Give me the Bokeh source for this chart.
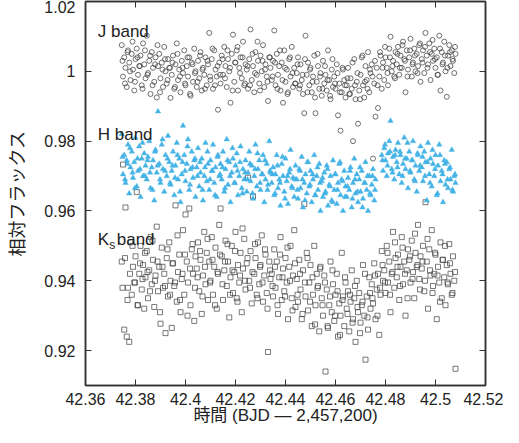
import numpy as np
from bokeh.plotting import figure
from bokeh.models import FixedTicker, LinearAxis, Range1d, Label
from bokeh.embed import file_html
from bokeh.resources import INLINE

# Observation times (BJD - 2,457,200), shared by the three bands (frame set A)
TIME_A = [
    42.3745, 42.3750, 42.3755, 42.3760, 42.3765, 42.3770, 42.3775, 42.3780, 42.3785, 42.3790,
    42.3795, 42.3800, 42.3805, 42.3810, 42.3815, 42.3820, 42.3825, 42.3830, 42.3835, 42.3840,
    42.3845, 42.3850, 42.3855, 42.3860, 42.3865, 42.3870, 42.3875, 42.3880, 42.3885, 42.3890,
    42.3895, 42.3900, 42.3905, 42.3910, 42.3915, 42.3920, 42.3925, 42.3930, 42.3935, 42.3940,
    42.3945, 42.3950, 42.3955, 42.3960, 42.3965, 42.3970, 42.3975, 42.3980, 42.3985, 42.3990,
    42.3995, 42.4000, 42.4005, 42.4010, 42.4015, 42.4020, 42.4025, 42.4030, 42.4035, 42.4040,
    42.4045, 42.4050, 42.4055, 42.4060, 42.4065, 42.4070, 42.4075, 42.4080, 42.4085, 42.4090,
    42.4095, 42.4100, 42.4105, 42.4110, 42.4115, 42.4120, 42.4125, 42.4130, 42.4135, 42.4140,
    42.4145, 42.4150, 42.4155, 42.4160, 42.4165, 42.4170, 42.4175, 42.4180, 42.4185, 42.4190,
    42.4195, 42.4200, 42.4205, 42.4210, 42.4215, 42.4220, 42.4225, 42.4230, 42.4235, 42.4240,
    42.4245, 42.4250, 42.4255, 42.4260, 42.4265, 42.4270, 42.4275, 42.4280, 42.4285, 42.4290,
    42.4295, 42.4300, 42.4305, 42.4310, 42.4315, 42.4320, 42.4325, 42.4330, 42.4335, 42.4340,
    42.4345, 42.4350, 42.4355, 42.4360, 42.4365, 42.4370, 42.4375, 42.4380, 42.4385, 42.4390,
    42.4395, 42.4400, 42.4405, 42.4410, 42.4415, 42.4420, 42.4425, 42.4430, 42.4435, 42.4440,
    42.4445, 42.4450, 42.4455, 42.4460, 42.4465, 42.4470, 42.4475, 42.4480, 42.4485, 42.4490,
    42.4495, 42.4500, 42.4505, 42.4510, 42.4515, 42.4520, 42.4525, 42.4530, 42.4535, 42.4540,
    42.4545, 42.4550, 42.4555, 42.4560, 42.4565, 42.4570, 42.4575, 42.4580, 42.4585, 42.4590,
    42.4595, 42.4600, 42.4605, 42.4610, 42.4615, 42.4620, 42.4625, 42.4630, 42.4635, 42.4640,
    42.4645, 42.4650, 42.4655, 42.4660, 42.4665, 42.4670, 42.4675, 42.4680, 42.4685, 42.4690,
    42.4695, 42.4700, 42.4705, 42.4710, 42.4715, 42.4720, 42.4725, 42.4730, 42.4735, 42.4740,
    42.4745, 42.4750, 42.4755, 42.4760, 42.4765, 42.4770, 42.4775, 42.4780, 42.4785, 42.4790,
    42.4795, 42.4800, 42.4805, 42.4810, 42.4815, 42.4820, 42.4825, 42.4830, 42.4835, 42.4840,
    42.4845, 42.4850, 42.4855, 42.4860, 42.4865, 42.4870, 42.4875, 42.4880, 42.4885, 42.4890,
    42.4895, 42.4900, 42.4905, 42.4910, 42.4915, 42.4920, 42.4925, 42.4930, 42.4935, 42.4940,
    42.4945, 42.4950, 42.4955, 42.4960, 42.4965, 42.4970, 42.4975, 42.4980, 42.4985, 42.4990,
    42.4995, 42.5000, 42.5005, 42.5010, 42.5015, 42.5020, 42.5025, 42.5030, 42.5035, 42.5040,
    42.5045, 42.5050, 42.5055, 42.5060, 42.5065, 42.5070, 42.5075, 42.5080,
]

J_FLUX_A = [
    1.0075, 0.9985, 1.0040, 1.0010, 0.9955, 1.0060, 1.0025, 0.9975, 1.0050, 1.0005,
    0.9945, 1.0035, 1.0065, 0.9990, 1.0015, 1.0045, 0.9960, 1.0080, 1.0020, 0.9980,
    1.0102, 0.9995, 1.0030, 0.9935, 1.0055, 1.0010, 0.9970, 1.0040, 0.9925, 1.0015,
    1.0050, 0.9980, 1.0025, 0.9955, 1.0070, 1.0000, 0.9965, 1.0035, 1.0010, 0.9924,
    0.9990, 1.0045, 0.9950, 1.0020, 1.0080, 0.9975, 1.0005, 0.9940, 1.0030, 0.9995,
    1.0060, 0.9960, 1.0015, 0.9985, 1.0040, 0.9930, 1.0025, 0.9970, 1.0065, 1.0000,
    0.9955, 1.0030, 0.9980, 1.0055, 0.9945, 1.0010, 0.9990, 1.0040, 0.9960, 1.0020,
    1.0110, 0.9975, 1.0035, 0.9950, 1.0060, 1.0005, 0.9985, 0.9890, 1.0025, 0.9965,
    1.0045, 0.9990, 1.0070, 1.0015, 0.9955, 1.0035, 1.0000, 0.9910, 1.0050, 1.0105,
    0.9970, 1.0025, 1.0060, 0.9945, 1.0010, 1.0040, 0.9980, 1.0085, 0.9960, 1.0020,
    1.0005, 0.9950, 1.0035, 1.0120, 0.9975, 1.0015, 0.9940, 1.0055, 0.9990, 1.0030,
    0.9965, 1.0045, 1.0000, 1.0075, 0.9955, 1.0020, 0.9985, 0.9915, 1.0040, 1.0010,
    0.9975, 1.0030, 1.0117, 0.9960, 1.0050, 0.9990, 1.0015, 0.9945, 1.0025, 0.9910,
    1.0060, 0.9970, 1.0005, 0.9940, 1.0035, 0.9985, 1.0070, 0.9955, 1.0010, 0.9965,
    0.9995, 1.0040, 0.9950, 1.0020, 0.9975, 0.9935, 0.9880, 1.0102, 0.9990, 1.0025,
    0.9960, 1.0010, 0.9940, 0.9985, 1.0045, 0.9880, 0.9970, 1.0015, 0.9950, 0.9995,
    0.9930, 1.0030, 0.9965, 0.9990, 0.9945, 1.0060, 0.9975, 0.9920, 1.0005, 0.9955,
    0.9985, 0.9950, 1.0020, 0.9874, 0.9965, 0.9830, 0.9940, 1.0005, 0.9975, 0.9925,
    0.9960, 1.0010, 0.9935, 0.9980, 0.9950, 0.9800, 1.0035, 0.9920, 0.9970, 0.9850,
    0.9945, 0.9990, 1.0040, 0.9960, 0.9925, 1.0015, 0.9975, 1.0055, 0.9940, 0.9995,
    1.0020, 0.9750, 0.9965, 0.9870, 1.0010, 0.9895, 0.9985, 1.0045, 0.9950, 1.0025,
    0.9975, 1.0040, 1.0010, 0.9960, 1.0065, 1.0099, 1.0000, 1.0030, 0.9985, 1.0055,
    1.0020, 1.0070, 0.9990, 1.0045, 1.0010, 1.0085, 1.0035, 0.9940, 1.0060, 1.0005,
    1.0040, 1.0093, 0.9985, 1.0025, 1.0065, 1.0000, 1.0050, 1.0015, 1.0075, 0.9970,
    1.0035, 1.0060, 0.9995, 1.0110, 1.0045, 1.0020, 1.0080, 0.9975, 1.0050, 1.0030,
    1.0065, 1.0010, 1.0040, 0.9990, 1.0102, 0.9945, 1.0055, 1.0025, 1.0085, 1.0000,
    0.9927, 1.0045, 1.0075, 1.0015, 1.0060, 1.0030, 0.9995, 1.0050,
]

H_FLUX_A = [
    0.9820, 0.9705, 0.9760, 0.9680, 0.9745, 0.9790, 0.9650, 0.9725, 0.9770, 0.9695,
    0.9740, 0.9810, 0.9670, 0.9715, 0.9785, 0.9640, 0.9750, 0.9700, 0.9765, 0.9730,
    0.9690, 0.9755, 0.9800, 0.9665, 0.9725, 0.9745, 0.9630, 0.9775, 0.9710, 0.9885,
    0.9735, 0.9680, 0.9790, 0.9720, 0.9655, 0.9760, 0.9700, 0.9815, 0.9740, 0.9675,
    0.9715, 0.9770, 0.9645, 0.9730, 0.9795, 0.9690, 0.9750, 0.9625, 0.9705, 0.9844,
    0.9760, 0.9685, 0.9735, 0.9805, 0.9660, 0.9720, 0.9770, 0.9695, 0.9745, 0.9640,
    0.9725, 0.9780, 0.9670, 0.9710, 0.9750, 0.9630, 0.9700, 0.9795, 0.9685, 0.9735,
    0.9660, 0.9745, 0.9715, 0.9790, 0.9680, 0.9725, 0.9640, 0.9760, 0.9700, 0.9735,
    0.9690, 0.9770, 0.9655, 0.9720, 0.9805, 0.9675, 0.9740, 0.9625, 0.9710, 0.9750,
    0.9680, 0.9730, 0.9765, 0.9645, 0.9700, 0.9785, 0.9665, 0.9720, 0.9690, 0.9745,
    0.9655, 0.9710, 0.9770, 0.9685, 0.9730, 0.9635, 0.9700, 0.9790, 0.9670, 0.9720,
    0.9745, 0.9660, 0.9705, 0.9760, 0.9625, 0.9690, 0.9735, 0.9675, 0.9800, 0.9710,
    0.9680, 0.9725, 0.9645, 0.9705, 0.9760, 0.9665, 0.9690, 0.9615, 0.9735, 0.9700,
    0.9655, 0.9750, 0.9685, 0.9620, 0.9710, 0.9775, 0.9670, 0.9695, 0.9640, 0.9730,
    0.9690, 0.9635, 0.9720, 0.9665, 0.9755, 0.9610, 0.9680, 0.9705, 0.9650, 0.9740,
    0.9670, 0.9715, 0.9625, 0.9690, 0.9760, 0.9645, 0.9700, 0.9660, 0.9735, 0.9600,
    0.9685, 0.9640, 0.9710, 0.9655, 0.9730, 0.9615, 0.9675, 0.9700, 0.9630, 0.9745,
    0.9660, 0.9705, 0.9620, 0.9680, 0.9735, 0.9645, 0.9690, 0.9600, 0.9715, 0.9670,
    0.9640, 0.9695, 0.9660, 0.9725, 0.9610, 0.9680, 0.9750, 0.9650, 0.9705, 0.9625,
    0.9690, 0.9655, 0.9715, 0.9635, 0.9680, 0.9740, 0.9660, 0.9600, 0.9700, 0.9645,
    0.9675, 0.9720, 0.9630, 0.9690, None, None, None, None, 0.9760, 0.9715,
    0.9780, 0.9745, 0.9700, 0.9765, 0.9800, 0.9858, 0.9720, 0.9755, 0.9690, 0.9775,
    0.9740, 0.9795, 0.9705, 0.9760, 0.9680, 0.9735, 0.9810, 0.9720, 0.9750, 0.9665,
    0.9770, 0.9710, 0.9745, 0.9800, 0.9690, 0.9730, 0.9655, 0.9760, 0.9715, 0.9785,
    0.9725, 0.9685, 0.9770, 0.9740, 0.9630, 0.9795, 0.9705, 0.9750, 0.9670, 0.9735,
    0.9700, 0.9760, 0.9645, 0.9730, 0.9790, 0.9685, 0.9715, 0.9625, 0.9745, 0.9675,
    0.9740, 0.9665, 0.9720, 0.9690, 0.9775, 0.9655, 0.9700, 0.9680,
]

KS_FLUX_A = [
    0.9455, 0.9733, 0.9260, 0.9610, 0.9240, 0.9380, 0.9225, 0.9510, 0.9360, 0.9440,
    0.9395, 0.9470, 0.9654, 0.9330, 0.9420, 0.9500, 0.9375, 0.9445, 0.9320, 0.9410,
    0.9485, 0.9350, 0.9430, 0.9525, 0.9390, 0.9460, 0.9325, 0.9415, 0.9555, 0.9370,
    0.9440, 0.9277, 0.9495, 0.9380, 0.9420, 0.9250, 0.9465, 0.9355, 0.9510, 0.9400,
    0.9265, 0.9450, 0.9385, 0.9616, 0.9340, 0.9425, 0.9475, 0.9310, 0.9405, 0.9545,
    0.9360, 0.9590, 0.9455, 0.9395, 0.9607, 0.9330, 0.9490, 0.9420, 0.9285, 0.9470,
    0.9435, 0.9510, 0.9370, 0.9460, 0.9305, 0.9415, 0.9540, 0.9390, 0.9480, 0.9345,
    0.9455, 0.9400, 0.9525, 0.9360, 0.9440, 0.9495, 0.9320, 0.9420, 0.9560, 0.9607,
    0.9470, 0.9345, 0.9430, 0.9515, 0.9385, 0.9455, 0.9295, 0.9410, 0.9500, 0.9365,
    0.9425, 0.9540, 0.9350, 0.9445, 0.9395, 0.9480, 0.9310, 0.9435, 0.9520, 0.9375,
    0.9450, 0.9695, 0.9400, 0.9485, 0.9335, 0.9642, 0.9420, 0.9465, 0.9360, 0.9510,
    0.9390, 0.9445, 0.9530, 0.9340, 0.9415, 0.9475, 0.9365, 0.9196, 0.9455, 0.9405,
    0.9420, 0.9355, 0.9490, 0.9380, 0.9455, 0.9305, 0.9410, 0.9525, 0.9345, 0.9435,
    0.9370, 0.9465, 0.9395, 0.9290, 0.9440, 0.9500, 0.9350, 0.9415, 0.9545, 0.9325,
    0.9405, 0.9340, 0.9460, 0.9375, 0.9290, 0.9430, 0.9620, 0.9355, 0.9480, 0.9315,
    0.9395, 0.9445, 0.9270, 0.9360, 0.9500, 0.9330, 0.9420, 0.9385, 0.9255, 0.9440,
    0.9350, 0.9300, 0.9415, 0.9140, 0.9375, 0.9265, 0.9330, 0.9455, 0.9310, 0.9390,
    0.9285, 0.9360, 0.9420, 0.9240, 0.9335, 0.9300, 0.9480, 0.9355, 0.9270, 0.9395,
    0.9320, 0.9370, 0.9255, 0.9340, 0.9430, 0.9290, 0.9350, 0.9225, 0.9400, 0.9310,
    0.9365, 0.9280, 0.9330, 0.9445, 0.9300, 0.9174, 0.9355, 0.9260, 0.9410, 0.9320,
    0.9390, 0.9335, 0.9450, 0.9290, 0.9375, 0.9420, 0.9245, 0.9360, 0.9485, 0.9400,
    0.9430, 0.9365, 0.9500, 0.9395, 0.9455, 0.9310, 0.9420, 0.9540, 0.9380, 0.9465,
    0.9410, 0.9475, 0.9345, 0.9440, 0.9525, 0.9390, 0.9455, 0.9300, 0.9430, 0.9490,
    0.9460, 0.9395, 0.9515, 0.9425, 0.9350, 0.9480, 0.9440, 0.9560, 0.9405, 0.9470,
    0.9435, 0.9500, 0.9370, 0.9625, 0.9455, 0.9320, 0.9490, 0.9415, 0.9545, 0.9385,
    0.9420, 0.9475, 0.9290, 0.9440, 0.9395, 0.9510, 0.9350, 0.9460, 0.9410, 0.9330,
    0.9445, 0.9390, 0.9505, 0.9420, 0.9360, 0.9470, 0.9400, 0.9148,
]

# Interleaved frames (set B)
TIME_B = [
    42.3748, 42.3758, 42.3768, 42.3778, 42.3788, 42.3798, 42.3808, 42.3818, 42.3828, 42.3838,
    42.3848, 42.3858, 42.3868, 42.3878, 42.3888, 42.3898, 42.3908, 42.3918, 42.3928, 42.3938,
    42.3948, 42.3958, 42.3968, 42.3978, 42.3988, 42.3998, 42.4008, 42.4018, 42.4028, 42.4038,
    42.4048, 42.4058, 42.4068, 42.4078, 42.4088, 42.4098, 42.4108, 42.4118, 42.4128, 42.4138,
    42.4148, 42.4158, 42.4168, 42.4178, 42.4188, 42.4198, 42.4208, 42.4218, 42.4228, 42.4238,
    42.4248, 42.4258, 42.4268, 42.4278, 42.4288, 42.4298, 42.4308, 42.4318, 42.4328, 42.4338,
    42.4348, 42.4358, 42.4368, 42.4378, 42.4388, 42.4398, 42.4408, 42.4418, 42.4428, 42.4438,
    42.4448, 42.4458, 42.4468, 42.4478, 42.4488, 42.4498, 42.4508, 42.4518, 42.4528, 42.4538,
    42.4548, 42.4558, 42.4568, 42.4578, 42.4588, 42.4598, 42.4608, 42.4618, 42.4628, 42.4638,
    42.4648, 42.4658, 42.4668, 42.4678, 42.4688, 42.4698, 42.4708, 42.4718, 42.4728, 42.4738,
    42.4748, 42.4758, 42.4768, 42.4778, 42.4788, 42.4798, 42.4808, 42.4818, 42.4828, 42.4838,
    42.4848, 42.4858, 42.4868, 42.4878, 42.4888, 42.4898, 42.4908, 42.4918, 42.4928, 42.4938,
    42.4948, 42.4958, 42.4968, 42.4978, 42.4988, 42.4998, 42.5008, 42.5018, 42.5028, 42.5038,
    42.5048, 42.5058, 42.5068, 42.5078,
]

J_FLUX_B = [
    1.0030, 0.9965, 1.0055, 1.0000, 1.0085, 0.9970, 1.0040, 1.0015, 0.9950, 1.0060,
    0.9990, 1.0045, 0.9960, 1.0020, 1.0075, 0.9940, 1.0005, 1.0035, 0.9975, 1.0010,
    1.0025, 0.9955, 1.0050, 0.9985, 1.0010, 0.9965, 1.0040, 0.9935, 1.0020, 0.9995,
    0.9970, 1.0045, 1.0005, 0.9950, 1.0030, 0.9985, 1.0065, 0.9960, 1.0015, 0.9990,
    1.0035, 0.9980, 1.0060, 1.0010, 0.9945, 1.0025, 1.0070, 0.9995, 1.0040, 0.9965,
    1.0015, 0.9960, 1.0050, 0.9995, 1.0085, 0.9945, 1.0030, 1.0005, 0.9970, 1.0040,
    0.9985, 1.0025, 0.9950, 1.0060, 0.9975, 1.0010, 0.9935, 1.0040, 0.9995, 0.9965,
    1.0020, 0.9960, 0.9990, 1.0035, 0.9940, 1.0005, 0.9970, 0.9925, 1.0050, 0.9985,
    0.9950, 1.0015, 0.9975, 0.9930, 1.0035, 0.9965, 0.9995, 0.9940, 1.0010, 0.9960,
    0.9980, 0.9935, 1.0025, 0.9960, 0.9995, 0.9920, 1.0045, 0.9970, 0.9950, 1.0005,
    0.9985, 1.0030, 0.9960, 1.0055, 1.0010, 1.0070, 0.9995, 1.0040, 1.0015, 0.9980,
    1.0050, 1.0010, 1.0075, 1.0030, 0.9985, 1.0060, 1.0020, 1.0045, 0.9995, 1.0080,
    1.0025, 1.0070, 1.0010, 1.0055, 1.0090, 1.0035, 0.9990, 1.0065, 1.0020, 1.0045,
    1.0010, 1.0055, 1.0035, 1.0070,
]

H_FLUX_B = [
    0.9755, 0.9690, 0.9735, 0.9780, 0.9710, 0.9665, 0.9750, 0.9720, 0.9795, 0.9700,
    0.9745, 0.9710, 0.9660, 0.9770, 0.9730, 0.9690, 0.9805, 0.9715, 0.9750, 0.9680,
    0.9730, 0.9695, 0.9760, 0.9655, 0.9740, 0.9715, 0.9785, 0.9675, 0.9725, 0.9750,
    0.9700, 0.9740, 0.9660, 0.9725, 0.9770, 0.9690, 0.9715, 0.9645, 0.9755, 0.9705,
    0.9725, 0.9665, 0.9745, 0.9700, 0.9780, 0.9680, 0.9715, 0.9740, 0.9650, 0.9710,
    0.9690, 0.9735, 0.9650, 0.9720, 0.9765, 0.9680, 0.9705, 0.9745, 0.9660, 0.9715,
    0.9705, 0.9650, 0.9730, 0.9680, 0.9755, 0.9635, 0.9700, 0.9720, 0.9665, 0.9690,
    0.9660, 0.9715, 0.9690, 0.9630, 0.9740, 0.9675, 0.9705, 0.9645, 0.9725, 0.9680,
    0.9695, 0.9650, 0.9720, 0.9670, 0.9625, 0.9705, 0.9660, 0.9740, 0.9685, 0.9640,
    0.9670, 0.9715, 0.9635, 0.9690, 0.9655, 0.9725, 0.9610, 0.9680, 0.9700, 0.9650,
    0.9700, 0.9660, None, None, 0.9745, 0.9790, 0.9730, 0.9770, 0.9710, 0.9760,
    0.9725, 0.9770, 0.9700, 0.9750, 0.9795, 0.9715, 0.9745, 0.9685, 0.9765, 0.9730,
    0.9755, 0.9700, 0.9740, 0.9680, 0.9775, 0.9720, 0.9650, 0.9760, 0.9705, 0.9735,
    0.9690, 0.9725, 0.9660, 0.9705,
]

KS_FLUX_B = [
    0.9380, 0.9465, 0.9345, 0.9420, 0.9500, 0.9395, 0.9330, 0.9450, 0.9405, 0.9480,
    0.9425, 0.9370, 0.9515, 0.9400, 0.9455, 0.9310, 0.9440, 0.9385, 0.9490, 0.9360,
    0.9450, 0.9395, 0.9530, 0.9345, 0.9420, 0.9475, 0.9300, 0.9435, 0.9505, 0.9380,
    0.9410, 0.9485, 0.9355, 0.9440, 0.9520, 0.9395, 0.9460, 0.9330, 0.9425, 0.9475,
    0.9390, 0.9455, 0.9505, 0.9360, 0.9430, 0.9485, 0.9340, 0.9415, 0.9550, 0.9400,
    0.9465, 0.9380, 0.9425, 0.9505, 0.9350, 0.9440, 0.9395, 0.9490, 0.9320, 0.9430,
    0.9385, 0.9440, 0.9330, 0.9475, 0.9410, 0.9355, 0.9495, 0.9400, 0.9315, 0.9450,
    0.9360, 0.9420, 0.9305, 0.9395, 0.9465, 0.9340, 0.9410, 0.9275, 0.9380, 0.9435,
    0.9330, 0.9395, 0.9270, 0.9355, 0.9430, 0.9300, 0.9370, 0.9245, 0.9345, 0.9410,
    0.9305, 0.9360, 0.9280, 0.9385, 0.9325, 0.9250, 0.9340, 0.9420, 0.9295, 0.9365,
    0.9350, 0.9415, 0.9300, 0.9380, 0.9445, 0.9395, 0.9480, 0.9360, 0.9425, 0.9510,
    0.9440, 0.9385, 0.9495, 0.9420, 0.9350, 0.9470, 0.9405, 0.9535, 0.9445, 0.9375,
    0.9455, 0.9400, 0.9520, 0.9430, 0.9365, 0.9480, 0.9415, 0.9340, 0.9460, 0.9500,
    0.9395, 0.9450, 0.9365, 0.9425,
]

X_TICKS = [42.36, 42.38, 42.40, 42.42, 42.44, 42.46, 42.48, 42.50, 42.52]
X_TICK_LABELS = ["42.36", "42.38", "42.4", "42.42", "42.44", "42.46", "42.48", "42.5", "42.52"]
Y_TICKS = [0.92, 0.94, 0.96, 0.98, 1.00, 1.02]
Y_TICK_LABELS = ["0.92", "0.94", "0.96", "0.98", "1", "1.02"]

X_LABEL = "時間 (BJD — 2,457,200)"
Y_LABEL = "相対フラックス"


def series(times, values):
    n = min(len(times), len(values))
    return np.array(times[:n], dtype=float), np.array(values[:n], dtype=float)


tj_a, j_a = series(TIME_A, J_FLUX_A)
tj_b, j_b = series(TIME_B, J_FLUX_B)
th_a, h_a = series(TIME_A, H_FLUX_A)
th_b, h_b = series(TIME_B, H_FLUX_B)
tk_a, k_a = series(TIME_A, KS_FLUX_A)
tk_b, k_b = series(TIME_B, KS_FLUX_B)
t_j, f_j = np.concatenate([tj_a, tj_b]), np.concatenate([j_a, j_b])
t_h, f_h = np.concatenate([th_a, th_b]), np.concatenate([h_a, h_b])
t_k, f_k = np.concatenate([tk_a, tk_b]), np.concatenate([k_a, k_b])

LATIN = "Liberation Sans"
MIXED = "Liberation Sans, Noto Sans CJK JP"
CJK = "Noto Sans CJK JP"
AX = "#333333"
TXT = "#222222"

p = figure(width=503, height=427,
           x_range=Range1d(42.36, 42.52), y_range=Range1d(0.91, 1.02),
           output_backend="svg", toolbar_location=None,
           min_border_left=77, min_border_right=18,
           min_border_top=1, min_border_bottom=0)
p.grid.visible = False
p.outline_line_color = AX
p.outline_line_width = 1.5
p.background_fill_color = "white"
p.border_fill_color = "white"

# data
p.scatter(t_k, f_k, marker="square", size=5, fill_color=None,
          line_color="#444444", line_width=0.8, line_alpha=0.9)
p.scatter(t_h, f_h, marker="triangle", size=5.5, fill_color="#45b3e6",
          line_color="#45b3e6", line_width=0.4)
p.scatter(t_j, f_j, marker="circle", size=5, fill_color=None,
          line_color="#3a3a3a", line_width=0.8, line_alpha=0.9)

xa = p.xaxis[0]
xa.ticker = FixedTicker(ticks=X_TICKS)
xa.major_label_overrides = {v: s for v, s in zip(X_TICKS, X_TICK_LABELS)}
ya = p.yaxis[0]
ya.ticker = FixedTicker(ticks=Y_TICKS)
ya.major_label_overrides = {v: s for v, s in zip(Y_TICKS, Y_TICK_LABELS)}

for ax in (xa, ya):
    ax.major_tick_in = 6
    ax.major_tick_out = 0
    ax.minor_tick_line_color = None
    ax.axis_line_color = AX
    ax.axis_line_width = 1.5
    ax.major_tick_line_color = AX
    ax.major_tick_line_width = 1
    ax.major_label_text_font = LATIN
    ax.major_label_text_font_size = "16px"
    ax.major_label_text_color = TXT
    ax.axis_label_text_font_style = "normal"
    ax.axis_label_text_color = TXT

xa.major_label_standoff = 7
xa.axis_label = X_LABEL
xa.axis_label_text_font = MIXED
xa.axis_label_text_font_size = "17px"
xa.axis_label_standoff = -2

ya.major_label_standoff = 10
ya.axis_label = Y_LABEL
ya.axis_label_text_font = CJK
ya.axis_label_text_font_size = "18px"
ya.axis_label_standoff = 12

# mirrored tick marks on top and right (no labels)
top = LinearAxis(ticker=FixedTicker(ticks=X_TICKS))
right = LinearAxis(ticker=FixedTicker(ticks=Y_TICKS))
for ax in (top, right):
    ax.major_tick_in = 6
    ax.major_tick_out = 0
    ax.minor_tick_line_color = None
    ax.axis_line_color = AX
    ax.axis_line_width = 1.5
    ax.major_tick_line_color = AX
    ax.major_label_text_font_size = "1px"
    ax.major_label_text_color = None
    ax.major_label_standoff = 0
p.add_layout(top, "above")
p.add_layout(right, "right")

# band labels
LBL_X = 42.3649
LBL_DY = -8
p.add_layout(Label(x=LBL_X, y=1.0137, y_offset=LBL_DY, text="J band", text_font=LATIN,
                   text_font_size="17px", text_color=TXT, text_baseline="middle"))
p.add_layout(Label(x=LBL_X, y=0.9841, y_offset=LBL_DY, text="H band", text_font=LATIN,
                   text_font_size="17px", text_color=TXT, text_baseline="middle"))
p.add_layout(Label(x=LBL_X, y=0.9540, y_offset=LBL_DY, text="K", text_font=LATIN,
                   text_font_size="17px", text_color=TXT, text_baseline="middle"))
p.add_layout(Label(x=LBL_X, y=0.9540, x_offset=11.5, y_offset=LBL_DY - 5, text="s",
                   text_font=LATIN, text_font_size="12px", text_color=TXT,
                   text_baseline="middle"))
p.add_layout(Label(x=LBL_X, y=0.9540, x_offset=19, y_offset=LBL_DY, text="band",
                   text_font=LATIN, text_font_size="17px", text_color=TXT,
                   text_baseline="middle"))

open("out.html", "w").write(file_html(p, INLINE))
